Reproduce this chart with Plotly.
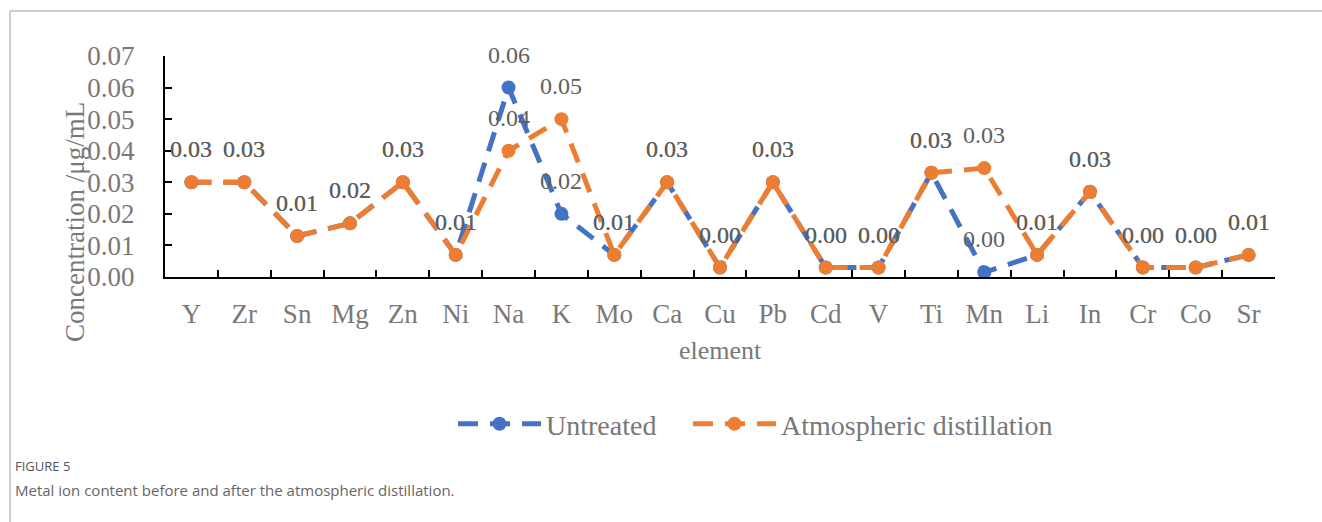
import plotly.graph_objects as go

elements = ["Y", "Zr", "Sn", "Mg", "Zn", "Ni", "Na", "K", "Mo", "Ca", "Cu",
            "Pb", "Cd", "V", "Ti", "Mn", "Li", "In", "Cr", "Co", "Sr"]
untreated = [0.030, 0.030, 0.013, 0.017, 0.030, 0.007, 0.060, 0.020, 0.007, 0.030, 0.003,
             0.030, 0.003, 0.003, 0.033, 0.0015, 0.007, 0.027, 0.003, 0.003, 0.007]
atmospheric = [0.030, 0.030, 0.013, 0.017, 0.030, 0.007, 0.040, 0.050, 0.007, 0.030, 0.003,
               0.030, 0.003, 0.003, 0.033, 0.0345, 0.007, 0.027, 0.003, 0.003, 0.007]
y_ticks = [0.00, 0.01, 0.02, 0.03, 0.04, 0.05, 0.06, 0.07]

W, H = 1322, 522
BLUE = "#4472C4"
ORANGE = "#ED7D31"
AXIS_TXT = "#787878"
LBL_TXT = "#5f5f5f"
SERIF = "Liberation Serif, Times New Roman, serif"

fig = go.Figure()
for name, vals, col, lg in [("Untreated", untreated, BLUE, "legend"),
                            ("Atmospheric distillation", atmospheric, ORANGE, "legend2")]:
    fig.add_trace(go.Scatter(
        x=elements, y=vals, name=name, mode="lines+markers", legend=lg,
        line=dict(color=col, width=5, dash="20px,12px"),
        marker=dict(color=col, size=14, symbol="circle"),
    ))

annotations = []
for vals in (untreated, atmospheric):
    for e, v in zip(elements, vals):
        annotations.append(dict(
            x=e, y=v, xref="x", yref="y", text=f"{v:.2f}", showarrow=False,
            yshift=33, font=dict(family=SERIF, size=24, color=LBL_TXT)))

# axis titles
annotations.append(dict(
    x=720 / W, y=1 - 350 / H, xref="paper", yref="paper", text="element",
    xanchor="center", yanchor="middle",
    showarrow=False, font=dict(family=SERIF, size=26, color=AXIS_TXT)))
annotations.append(dict(
    x=75 / W, y=1 - 222 / H, xref="paper", yref="paper", text="Concentration /μg/mL",
    xanchor="center", yanchor="middle",
    textangle=-90, showarrow=False, font=dict(family=SERIF, size=27, color=AXIS_TXT)))
# caption
annotations.append(dict(
    x=13 / W, y=1 - 466 / H, xref="paper", yref="paper", text="FIGURE 5",
    xanchor="left", yanchor="middle", showarrow=False,
    font=dict(family="Open Sans, sans-serif", size=13, color="#555555")))
annotations.append(dict(
    x=13 / W, y=1 - 490 / H, xref="paper", yref="paper",
    text="Metal ion content before and after the atmospheric distillation.",
    xanchor="left", yanchor="middle", showarrow=False,
    font=dict(family="Open Sans, sans-serif", size=15, color="#666666")))

shapes = [
    dict(type="line", xref="paper", yref="paper", x0=10 / W, x1=1, y0=1 - 11 / H, y1=1 - 11 / H,
         line=dict(color="#bdbdbd", width=1.5)),
    dict(type="line", xref="paper", yref="paper", x0=10 / W, x1=10 / W, y0=1 - 11 / H, y1=0,
         line=dict(color="#bdbdbd", width=1.5)),
]

legend_common = dict(orientation="h", yanchor="middle", y=1 - 424 / H, xanchor="left",
                     font=dict(family=SERIF, size=28, color=AXIS_TXT),
                     itemwidth=83, bgcolor="rgba(0,0,0,0)")

fig.update_layout(
    width=W, height=H, margin=dict(l=0, r=0, t=0, b=0, pad=0, autoexpand=False),
    paper_bgcolor="white", plot_bgcolor="white",
    annotations=annotations, shapes=shapes,
    showlegend=True,
    legend=dict(x=453 / W, **legend_common),
    legend2=dict(x=688 / W, **legend_common),
    xaxis=dict(domain=[165 / W, 1275 / W], type="category", range=[-0.5, 20.5],
               automargin=False, showline=True,
               linecolor="black", linewidth=2, ticks="inside", ticklen=7, tickwidth=2,
               tickcolor="black", tickson="boundaries", showgrid=False,
               tickfont=dict(family=SERIF, size=27, color=AXIS_TXT), ticklabelstandoff=12),
    yaxis=dict(domain=[1 - 277 / H, 1 - 56 / H], range=[0, 0.07], automargin=False,
               showline=True,
               linecolor="black", linewidth=2, ticks="inside", ticklen=7, tickwidth=2,
               tickcolor="black", tickvals=y_ticks, ticktext=[f"{t:.2f}" for t in y_ticks],
               showgrid=False, zeroline=False,
               tickfont=dict(family=SERIF, size=27, color=AXIS_TXT), ticklabelstandoff=23),
)

fig.write_html("out.html")
